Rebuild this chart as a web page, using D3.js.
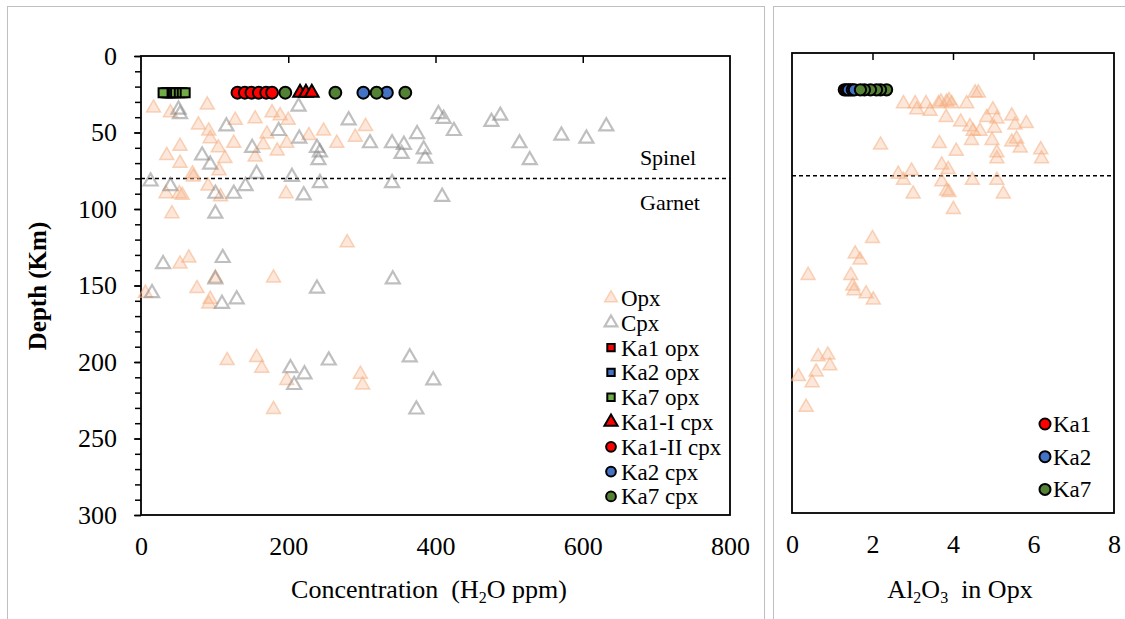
<!DOCTYPE html>
<html>
<head>
<meta charset="utf-8">
<script src="https://cdn.jsdelivr.net/npm/d3@7"></script>
<style>
  body { margin: 0; background: #fff; }
  text { font-family: "Liberation Serif", "Times New Roman", serif; fill: #000; }
</style>
</head>
<body>
<svg id="chart" width="1125" height="619"></svg>
<script>
// ---- data: left panel, H2O concentration vs depth ----
const opxConc  = [17, 40, 90, 78, 92, 94, 53, 35, 53, 105, 114, 126, 128, 155, 171, 178, 189, 200, 166, 155, 185, 198, 228, 248, 266, 291, 305, 71, 34, 52, 42, 70, 91, 106, 197, 56, 108,
                  280, 53, 65, 101, 180, 6, 76, 94, 92, 117, 157, 164, 198, 298, 301, 180];
const opxDepth = [34, 37, 32, 45, 49, 54, 59, 65, 70, 60, 67, 57, 42, 41, 51, 37, 39, 42, 58, 66, 62, 57, 52, 49, 57, 53, 46, 79, 90, 90, 103, 77, 85, 75, 90, 91, 92,
                  122, 136, 132, 145, 145, 155, 152, 159, 162, 199, 197, 204, 212, 208, 215, 231];

const cpxConc  = [51, 53, 116, 151, 187, 214, 215, 239, 243, 241, 282, 311, 341, 357, 375, 384, 386, 83, 94, 13, 40, 101, 126, 142, 157, 205, 221, 243, 341,
                  404, 411, 425, 476, 488, 354, 514, 528, 571, 605, 632, 409, 101, 30, 111, 101, 15, 110, 130, 239, 342, 203, 222, 208, 255, 365, 397, 374];
const cpxDepth = [35, 38, 46, 60, 49, 33, 54, 60, 63, 68, 42, 57, 57, 58, 51, 61, 67, 65, 71, 82, 85, 90, 90, 85, 77, 79, 91, 83, 83,
                  38, 41, 49, 43, 39, 64, 57, 68, 52, 54, 46, 92, 103, 136, 132, 146, 155, 162, 159, 152, 146, 204, 208, 215, 199, 197, 212, 231];

const sampleDepth = 24;
const ka1OpxConc  = [34, 38, 42];
const ka2OpxConc  = [36, 40, 44];
const ka7OpxConc  = [47, 52, 56, 60, 30];
const ka1ICpxConc = [216, 224, 232];
const ka1IICpxConc = [131, 141, 150, 160, 170, 178];
const ka2CpxConc  = [302, 334];
const ka7CpxConc  = [196, 264, 320, 359];

// ---- data: right panel, Al2O3 in opx vs depth ----
const alOpx      = [2.77, 3.06, 3.33, 3.1, 3.43, 3.64, 3.84, 3.97, 4.34, 4.55, 4.63, 3.7, 3.9, 3.83, 4.19, 4.42, 4.5, 4.46, 4.67, 4.84, 4.99, 5.09, 5.03, 4.97, 5.09, 5.09,
                    5.46, 5.54, 5.82, 5.46, 5.58, 5.67, 6.18, 6.2, 2.2, 3.66, 4.08, 2.64, 2.77, 2.97, 3.01, 3.72, 3.88, 3.72, 3.84, 3.9, 4.01, 4.48, 5.09, 5.25,
                    2.0, 1.57, 1.69, 0.4, 1.46, 1.51, 1.54, 1.84, 2.02, 0.65, 0.89, 0.94, 0.6, 0.16, 0.5, 0.35];
const alOpxDepth = [33, 33, 33, 37, 38, 33, 32, 33, 33, 26, 26, 32, 31, 42, 45, 48, 51, 57, 51, 42, 37, 43, 49, 57, 65, 69,
                    41, 47, 46, 58, 56, 62, 63, 69, 60, 59, 64, 79, 83, 77, 92, 73, 76, 84, 90, 91, 102, 83, 83, 92,
                    121, 131, 135, 145, 145, 152, 155, 157, 161, 198, 197, 204, 208, 211, 215, 231];
const ka1Al = [1.3, 1.35, 1.45];
const ka2Al = [1.4, 1.5, 1.55];
const ka7Al = [2.35, 2.2, 2.1, 1.95, 1.8, 1.7];

const depthTicks = [0, 50, 100, 150, 200, 250, 300];
const concTicks = [0, 200, 400, 600, 800];
const alTicks = [0, 2, 4, 6, 8];

const RED = '#FF0000', BLUE = '#4472C4', GREEN = '#70AD47', DKGREEN = '#548235';

const svg = d3.select('#chart');
svg.append('rect').attr('width', 1125).attr('height', 619).attr('fill', '#fff');

// panel frames
svg.append('rect').attr('x', 7.5).attr('y', 6.5).attr('width', 757).attr('height', 700)
  .attr('fill', 'none').attr('stroke', '#bfbfbf');
svg.append('rect').attr('x', 773.5).attr('y', 6.5).attr('width', 400).attr('height', 700)
  .attr('fill', 'none').attr('stroke', '#bfbfbf');

const xL = d3.scaleLinear().domain([0, 800]).range([141, 730]);
const yL = d3.scaleLinear().domain([0, 300]).range([56, 515]);
const xR = d3.scaleLinear().domain([0, 8]).range([792, 1114]);
const yR = d3.scaleLinear().domain([0, 300]).range([53, 513]);

const tri = d3.symbol().type(d3.symbolTriangle);

function styleAxis(g) {
  g.select('.domain').remove();
  g.selectAll('line').attr('stroke', '#000').attr('stroke-width', 1.5);
  g.selectAll('text').style('font-size', '26px').attr('fill', '#000');
}

function frame(x, y, minorY) {
  const g = svg.append('g');
  // top ticks (x axis crosses at depth 0)
  g.append('g').attr('transform', `translate(0,${y.range()[0]})`)
    .call(d3.axisTop(x).tickValues(x.ticks(4).slice(1, -1)).tickSize(-7).tickFormat(''))
    .call(styleAxis);
  // bottom labels
  g.append('g').attr('transform', `translate(0,${y.range()[1]})`)
    .call(d3.axisBottom(x).tickValues(x === xL ? concTicks : alTicks).tickSize(0).tickPadding(22))
    .call(styleAxis);
  if (minorY) {
    g.append('g').attr('transform', `translate(${x.range()[0]},0)`)
      .call(d3.axisLeft(y).tickValues(d3.range(0, 301, 10)).tickSize(6).tickFormat(''))
      .call(styleAxis);
    g.append('g').attr('transform', `translate(${x.range()[0]},0)`)
      .call(d3.axisLeft(y).tickValues(depthTicks).tickSize(7).tickPadding(17))
      .call(styleAxis);
  }
  g.append('rect')
    .attr('x', x.range()[0]).attr('y', y.range()[0])
    .attr('width', x.range()[1] - x.range()[0]).attr('height', y.range()[1] - y.range()[0])
    .attr('fill', 'none').attr('stroke', '#000').attr('stroke-width', 1.8);
  // spinel / garnet boundary
  g.append('line')
    .attr('x1', x.range()[0]).attr('x2', x.range()[1])
    .attr('y1', y(80)).attr('y2', y(80))
    .attr('stroke', '#000').attr('stroke-width', 1.5).attr('stroke-dasharray', '4,3');
}

frame(xL, yL, true);
frame(xR, yR, false);

function triangles(x, y, xs, ys, kind) {
  const g = svg.append('g');
  g.selectAll('path').data(xs.map((v, i) => [v, ys[i]])).enter().append('path')
    .attr('d', tri.size(85)())
    .attr('transform', d => `translate(${x(d[0])},${y(d[1])})`)
    .call(kind === 'opx' ? opxStyle : cpxStyle);
}
function opxStyle(s) {
  s.attr('fill', '#F4B183').attr('fill-opacity', 0.3)
   .attr('stroke', '#F4B183').attr('stroke-opacity', 0.55).attr('stroke-width', 1.5);
}
function cpxStyle(s) {
  s.attr('fill', 'none').attr('stroke', '#808080').attr('stroke-opacity', 0.5).attr('stroke-width', 2.2);
}

function markers(x, y, xs, depth, shape, color, size) {
  const sym = d3.symbol().type(shape).size(size);
  svg.append('g').selectAll('path').data(xs).enter().append('path')
    .attr('d', sym())
    .attr('transform', d => `translate(${x(d)},${y(depth)})`)
    .attr('fill', color).attr('stroke', '#000').attr('stroke-width', 2);
}

// left panel marks
triangles(xL, yL, opxConc, opxDepth, 'opx');
triangles(xL, yL, cpxConc, cpxDepth, 'cpx');
markers(xL, yL, ka1OpxConc, sampleDepth, d3.symbolSquare, RED, 81);
markers(xL, yL, ka2OpxConc, sampleDepth, d3.symbolSquare, BLUE, 81);
markers(xL, yL, ka7OpxConc, sampleDepth, d3.symbolSquare, GREEN, 81);
markers(xL, yL, ka1ICpxConc, sampleDepth, d3.symbolTriangle, RED, 80);
markers(xL, yL, ka1IICpxConc, sampleDepth, d3.symbolCircle, RED, 110);
markers(xL, yL, ka2CpxConc, sampleDepth, d3.symbolCircle, BLUE, 110);
markers(xL, yL, ka7CpxConc, sampleDepth, d3.symbolCircle, DKGREEN, 110);

// right panel marks
triangles(xR, yR, alOpx, alOpxDepth, 'opx');
markers(xR, yR, ka1Al, sampleDepth, d3.symbolCircle, RED, 100);
markers(xR, yR, ka2Al, sampleDepth, d3.symbolCircle, BLUE, 100);
markers(xR, yR, ka7Al, sampleDepth, d3.symbolCircle, DKGREEN, 100);

// zone labels
svg.append('text').attr('x', 668).attr('y', 165).attr('text-anchor', 'middle')
  .style('font-size', '22px').text('Spinel');
svg.append('text').attr('x', 670).attr('y', 210).attr('text-anchor', 'middle')
  .style('font-size', '22px').text('Garnet');

// axis titles
svg.append('text').attr('transform', 'translate(46,286) rotate(-90)')
  .attr('text-anchor', 'middle').style('font-size', '25px').style('font-weight', 'bold')
  .text('Depth (Km)');

const t1 = svg.append('text').attr('x', 429).attr('y', 598).attr('text-anchor', 'middle')
  .style('font-size', '26px').attr('xml:space', 'preserve');
t1.append('tspan').text('Concentration  (H');
t1.append('tspan').attr('dy', 5).style('font-size', '16px').text('2');
t1.append('tspan').attr('dy', -5).text('O ppm)');

const t2 = svg.append('text').attr('x', 960).attr('y', 598).attr('text-anchor', 'middle')
  .style('font-size', '26px').attr('xml:space', 'preserve');
t2.append('tspan').text('Al');
t2.append('tspan').attr('dy', 5).style('font-size', '16px').text('2');
t2.append('tspan').attr('dy', -5).text('O');
t2.append('tspan').attr('dy', 5).style('font-size', '16px').text('3');
t2.append('tspan').attr('dy', -5).text('  in Opx');

// legends
const legendLeft = [
  { name: 'Opx', kind: 'opx' },
  { name: 'Cpx', kind: 'cpx' },
  { name: 'Ka1 opx', shape: d3.symbolSquare, color: RED },
  { name: 'Ka2 opx', shape: d3.symbolSquare, color: BLUE },
  { name: 'Ka7 opx', shape: d3.symbolSquare, color: GREEN },
  { name: 'Ka1-I cpx', shape: d3.symbolTriangle, color: RED },
  { name: 'Ka1-II cpx', shape: d3.symbolCircle, color: RED },
  { name: 'Ka2 cpx', shape: d3.symbolCircle, color: BLUE },
  { name: 'Ka7 cpx', shape: d3.symbolCircle, color: DKGREEN }
];
const lg = svg.append('g').selectAll('g').data(legendLeft).enter().append('g')
  .attr('transform', (d, i) => `translate(611,${298 + i * 24.8})`);
lg.append('path')
  .attr('d', d => d.kind ? tri.size(70)() : d3.symbol().type(d.shape).size(d.shape === d3.symbolSquare ? 55 : 75)())
  .each(function (d) {
    const s = d3.select(this);
    if (d.kind === 'opx') opxStyle(s);
    else if (d.kind === 'cpx') cpxStyle(s);
    else s.attr('fill', d.color).attr('stroke', '#000').attr('stroke-width', 2);
  });
lg.append('text').attr('x', 10).attr('dy', '0.35em').style('font-size', '23px').text(d => d.name);

const legendRight = [
  { name: 'Ka1', color: RED },
  { name: 'Ka2', color: BLUE },
  { name: 'Ka7', color: DKGREEN }
];
const lr = svg.append('g').selectAll('g').data(legendRight).enter().append('g')
  .attr('transform', (d, i) => `translate(1045,${424 + i * 32.7})`);
lr.append('circle').attr('r', 5.5).attr('fill', d => d.color).attr('stroke', '#000').attr('stroke-width', 2);
lr.append('text').attr('x', 8).attr('dy', '0.35em').style('font-size', '23px').text(d => d.name);
</script>
</body>
</html>
